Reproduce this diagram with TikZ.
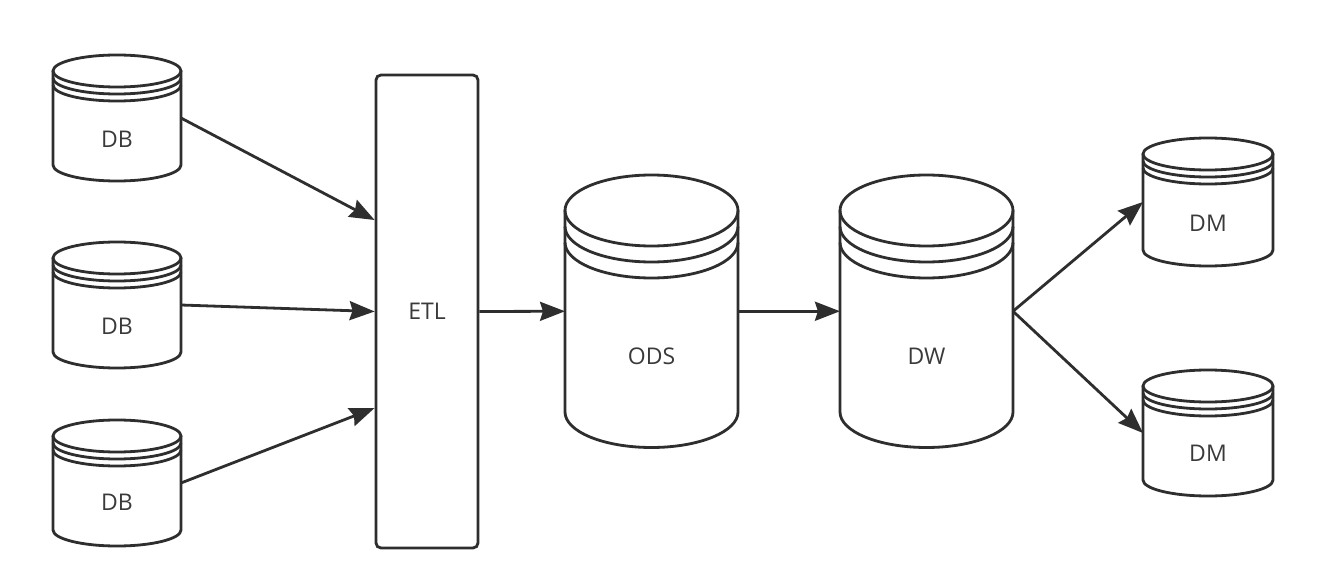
\documentclass[tikz,border=0pt]{standalone}
\usepackage{fontspec}
\setmainfont{Open Sans}
\usetikzlibrary{arrows.meta}
\definecolor{ink}{HTML}{2E2E2E}
\definecolor{txt}{HTML}{3A3A3A}
\tikzset{
  shapeline/.style={draw=ink, line width=2.8pt},
  lbl/.style={text=txt, font=\fontsize{23}{27}\selectfont},
  conn/.style={draw=ink, line width=2.8pt, -{Stealth[length=25pt,width=19pt,inset=3pt]}},
  bodybox/.style={inner sep=0pt, outer sep=0pt}
}
% #1 name, #2 cx, #3 cy (top centre), #4 rx, #5 ry, #6 height, #7 rib gap, #8 label, #9 label offset
\newcommand{\cylshape}[9]{%
  \draw[shapeline] (#2-#4,#3) -- (#2-#4,#3+#6)
     arc[start angle=180, end angle=0, x radius=#4, y radius=#5] -- (#2+#4,#3);
  \draw[shapeline] (#2,#3) ellipse[x radius=#4, y radius=#5];
  \draw[shapeline] (#2-#4,#3+#7) arc[start angle=180, end angle=0, x radius=#4, y radius=#5];
  \draw[shapeline] (#2-#4,#3+2*#7) arc[start angle=180, end angle=0, x radius=#4, y radius=#5];
  \node[bodybox, minimum width={2*#4pt}, minimum height={#6pt}] (#1) at (#2,#3+#6/2) {};
  \node[lbl] (#1t) at (#2,#3+#9) {#8};
}
\begin{document}
\begin{tikzpicture}[x=1pt,y=-1pt]
  \useasboundingbox[fill=white] (0,0) rectangle (1334,588);
  % sources
  \cylshape{db1}{117}{71}{64}{16}{94}{7}{DB}{68}
  \cylshape{db2}{117}{258}{64}{16}{94}{7}{DB}{68}
  \cylshape{db3}{117}{436}{64}{16}{94}{7}{DB}{66}
  % ETL
  \node[shapeline, rounded corners=5pt, minimum width=102pt, minimum height=473pt,
        inner sep=0pt, lbl] (etl) at (427,311.5) {ETL};
  \path (etl.west) ++(0,-91.5) coordinate (etlin1);
  \path (etl.west) ++(0,0) coordinate (etlin2);
  \path (etl.west) ++(0,96.5) coordinate (etlin3);
  % ODS and DW
  \cylshape{ods}{651.5}{210.5}{86.5}{35.5}{201.5}{16}{ODS}{145.5}
  \cylshape{dw}{926.5}{210.5}{86.5}{35.5}{201.5}{16}{DW}{145.5}
  % marts
  \cylshape{dm1}{1208}{154}{65}{16}{96}{7}{DM}{69}
  \cylshape{dm2}{1208}{386}{65}{16}{94}{7}{DM}{67}
  % connectors
  \draw[conn] (db1.east) -- (etlin1);
  \draw[conn] (db2.east) -- (etlin2);
  \draw[conn] (db3.east) -- (etlin3);
  \draw[conn] (etl.east) -- (ods.west);
  \draw[conn] (ods.east) -- (dw.west);
  \draw[conn] (dw.east) -- (dm1.west);
  \draw[conn] (dw.east) -- (dm2.west);
\end{tikzpicture}
\end{document}
